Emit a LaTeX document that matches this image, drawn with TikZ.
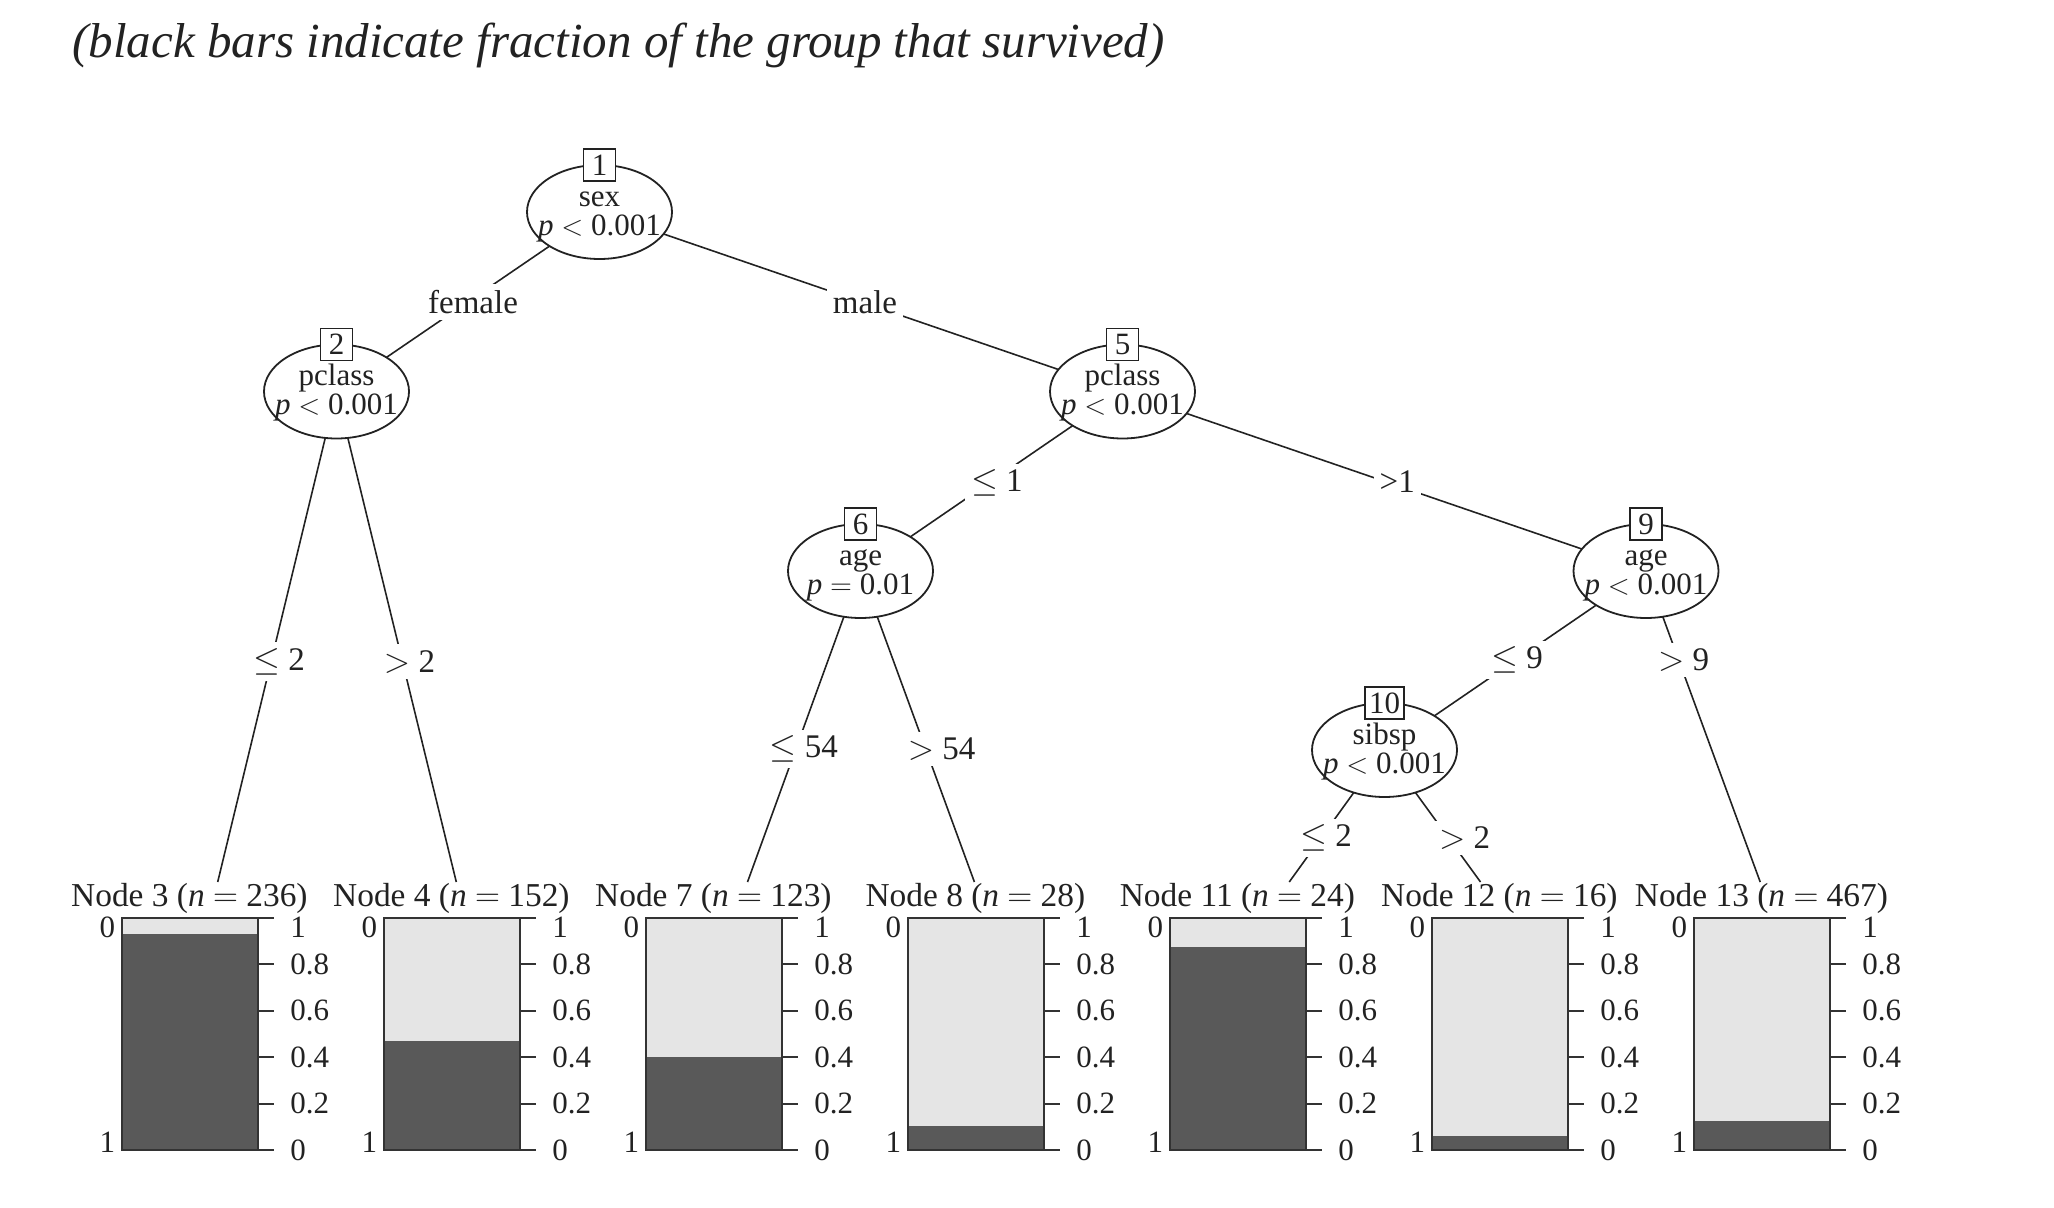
\documentclass[tikz,border=0pt]{standalone}
\usepackage{fontspec}
\setmainfont{Liberation Serif}
\usetikzlibrary{backgrounds,shapes.geometric}
\definecolor{ink}{HTML}{222222}
\definecolor{darkbar}{HTML}{595959}
\definecolor{lightbar}{HTML}{E5E5E5}
\definecolor{bordc}{HTML}{333333}
\tikzset{
  inode/.style={draw=ink, line width=0.9pt, fill=white, ellipse, minimum width=72.5pt, minimum height=47pt, inner sep=0pt, outer sep=0pt},
  idbox/.style={draw=ink, line width=0.8pt, fill=white, minimum width=16pt, minimum height=16pt, inner sep=0pt, inner xsep=2pt, text=ink, font=\fontsize{15.5}{18}\selectfont},
  vartxt/.style={inner sep=0pt, text=ink, font=\fontsize{15.5}{18}\selectfont},
  edge/.style={draw=ink, line width=0.8pt},
  elab/.style={fill=white, inner sep=3pt, text=ink, font=\fontsize{16.5}{19}\selectfont},
  ticklab/.style={inner sep=0pt, text=ink, font=\fontsize{15.5}{18}\selectfont},
  ttl/.style={inner sep=0pt, text=ink, font=\fontsize{16.7}{19}\selectfont},
  barframe/.style={draw=bordc, line width=1pt},
}
\newcommand\termpanel[4]{%
  \fill[lightbar] (#2,918) rectangle ++(136,232);
  \fill[darkbar] (#2,1150) rectangle ++(136,{-232*#4});
  \draw[barframe] (#2,918) rectangle ++(136,232);
  \foreach \v/\yy/\lab [count=\i] in {1/927/1, 0.8/964.4/0.8, 0.6/1010.8/0.6, 0.4/1057.2/0.4, 0.2/1103.6/0.2, 0/1150/0}{
    \draw[barframe] ({#2+136},{1150-232*\v}) -- ++(16,0);
    \node[ticklab,anchor=west] (ax#1-\i) at ({#2+167.6},\yy) {\lab};
  }
  \node[ticklab,anchor=east] (lo#1) at ({#2-7},927.5) {0};
  \node[ticklab,anchor=east] (hi#1) at ({#2-7},1142) {1};
  \node[ttl,anchor=base] (t#1) at ({#2+67},906.7) {Node #1 (\textit{n} $=$ #3)};
}
\newcommand\innernode[6]{%
  \node[inode] (n#1) at (#2,#3) {};
  \node[idbox] (b#1) at (n#1.north) {#4};
  \node[vartxt,anchor=base] (v#1) at (#2,{#3-5.5}) {#5};
  \node[vartxt,anchor=base] (p#1) at (#2,{#3+23.5}) {#6};
}
\begin{document}
\begin{tikzpicture}[x=0.5pt,y=-0.5pt]
\useasboundingbox (0,0) rectangle (2054,1208);

\node[anchor=base west, inner sep=0pt, text=ink, font=\fontsize{24.5}{28}\selectfont\itshape] (title) at (72,58)
  {(black bars indicate fraction of the group that survived)};

% inner nodes
\innernode{1}{599.5}{212}{1}{sex}{\textit{p} $<$ 0.001}
\innernode{2}{336.5}{391.5}{2}{pclass}{\textit{p} $<$ 0.001}
\innernode{5}{1122.5}{391.5}{5}{pclass}{\textit{p} $<$ 0.001}
\innernode{6}{860.5}{571}{6}{age}{\textit{p} $=$ 0.01}
\innernode{9}{1646}{571}{9}{age}{\textit{p} $<$ 0.001}
\innernode{10}{1384.5}{750}{10}{sibsp}{\textit{p} $<$ 0.001}

% terminal panels
\termpanel{3}{122.4}{236}{0.932}
\termpanel{4}{384.4}{152}{0.472}
\termpanel{7}{646.4}{123}{0.403}
\termpanel{8}{908.4}{28}{0.104}
\termpanel{11}{1170.4}{24}{0.873}
\termpanel{12}{1432.4}{16}{0.060}
\termpanel{13}{1694.4}{467}{0.127}

% free ends of connectors at top of terminal panels
\coordinate (e3) at (217.7,882);
\coordinate (e4) at (456.3,882);
\coordinate (e7) at (747.5,882);
\coordinate (e8) at (974.4,882);
\coordinate (e11) at (1289.2,882);
\coordinate (e12) at (1480.5,882);
\coordinate (e13) at (1760.2,882);

\begin{scope}[on background layer]
\draw[edge] (n1.center) -- node[elab,pos=0.5,xshift=2.5pt] (l12) {female} (n2.center);
\draw[edge] (n1.center) -- node[elab,pos=0.5,xshift=2pt] (l15) {male} (n5.center);
\draw[edge] (n2.center) -- node[elab,pos=0.551,xshift=4pt] (l23) {$\leq$ 2} (e3);
\draw[edge] (n2.center) -- node[elab,pos=0.551,xshift=3.5pt] (l24) {$>$ 2} (e4);
\draw[edge] (n5.center) -- node[elab,pos=0.51,xshift=4pt] (l56) {$\leq$ 1} (n6.center);
\draw[edge] (n5.center) -- node[elab,pos=0.5,xshift=6.5pt] (l59) {>1} (n9.center);
\draw[edge] (n6.center) -- node[elab,pos=0.572,xshift=4pt] (l67) {$\leq$ 54} (e7);
\draw[edge] (n6.center) -- node[elab,pos=0.572,xshift=8pt] (l68) {$>$ 54} (e8);
\draw[edge] (n9.center) -- node[elab,pos=0.497,xshift=0.5pt] (l910) {$\leq$ 9} (n10.center);
\draw[edge] (n9.center) -- node[elab,pos=0.286,xshift=2.5pt] (l913) {$>$ 9} (e13);
\draw[edge] (n10.center) -- node[elab,pos=0.667,xshift=2.5pt] (l1011) {$\leq$ 2} (e11);
\draw[edge] (n10.center) -- node[elab,pos=0.667,xshift=8pt] (l1012) {$>$ 2} (e12);
\end{scope}
\end{tikzpicture}
\end{document}
